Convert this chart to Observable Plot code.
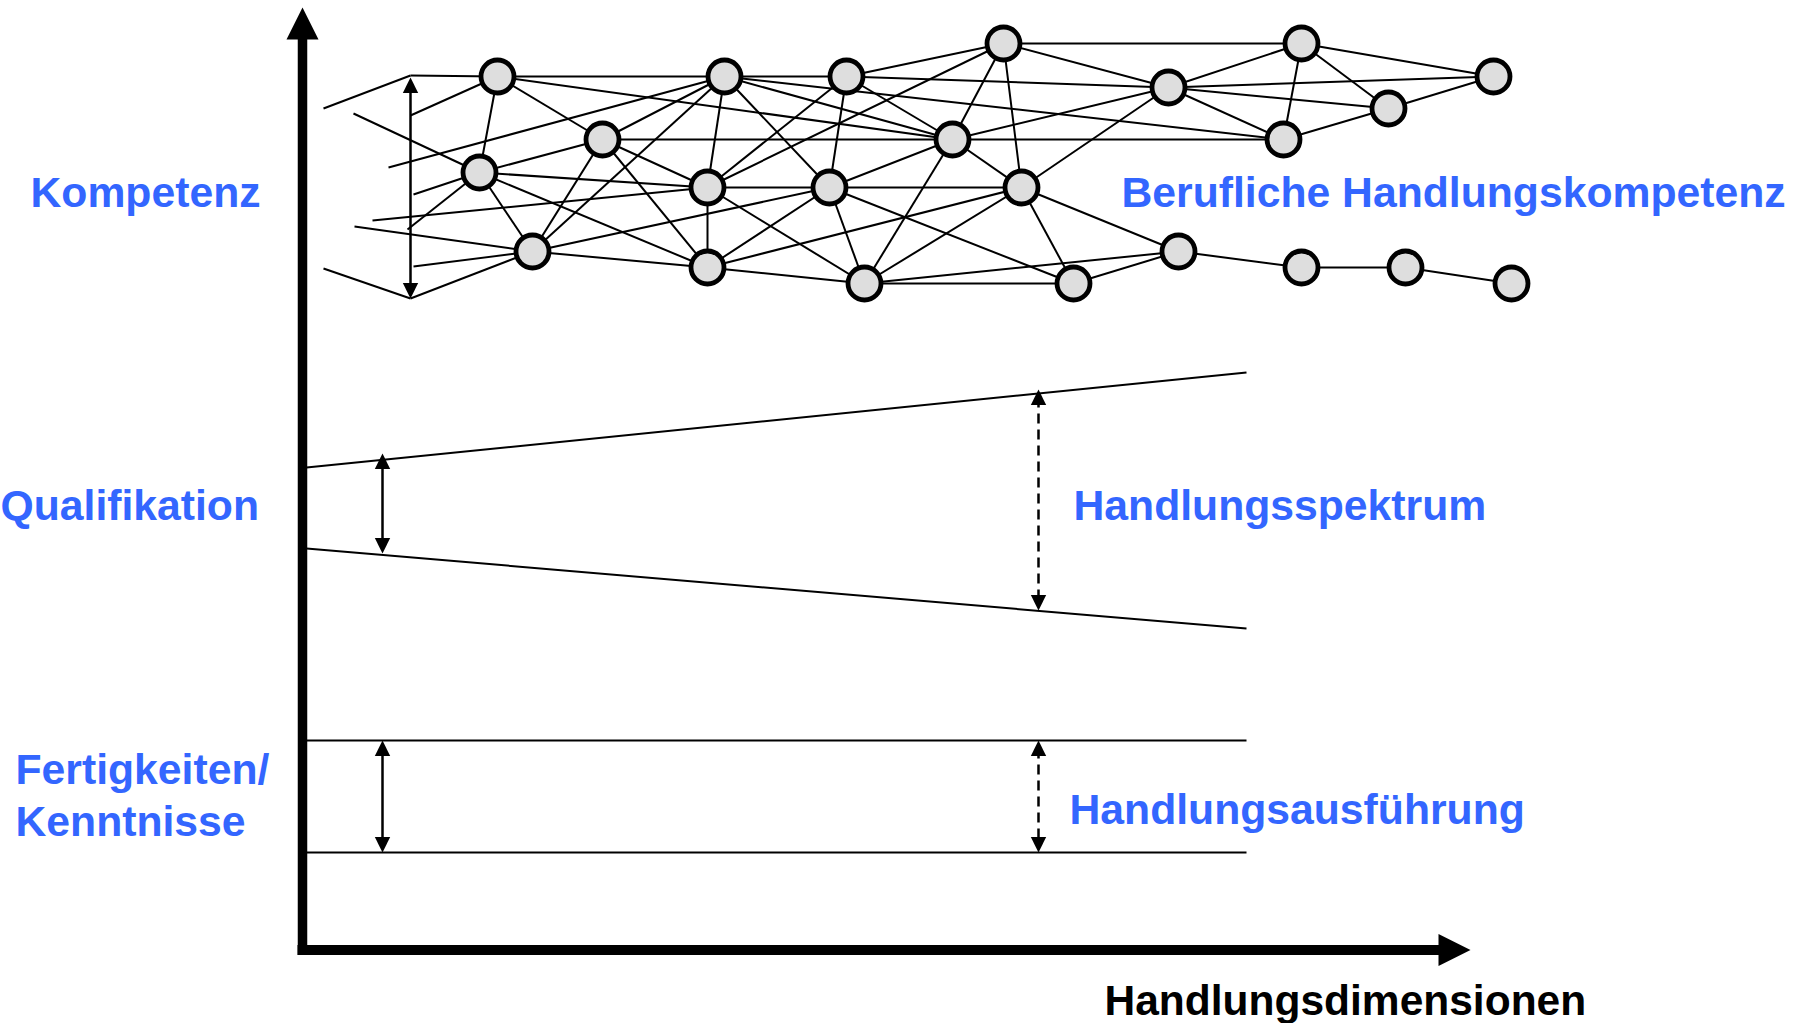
<!DOCTYPE html>
<html>
<head>
<meta charset="utf-8">
<script src="https://cdn.jsdelivr.net/npm/d3@7"></script>
<script src="https://cdn.jsdelivr.net/npm/@observablehq/plot@0.6"></script>
<style>
html,body{margin:0;padding:0;background:#fff;}
svg{display:block;}
</style>
</head>
<body>
<div id="chart"></div>
<script>
// ---- Network of competences (diagram coordinates) ----
const nodeIds = ["A","B","C","K","L","N","M","O","D","P","Q","E","F","G","R","H","S","I","T","U","J","V","W"];
const nodeX   = [497,724,846,1003,1301,1493,1168,1388,602,952,1283,479,707,829,1021,532,1178,707,1301,1405,864,1073,1511];
const nodeY   = [76,76,76,43,43,76,87,108,139,139,139,172,187,187,187,251,251,267,267,267,283,283,283];

const edgeFrom = ["A","B","A","A","A","B","B","B","B","B","B","C","C","C","C","C","K","K","K","K","K","L","L","L","L","M","M","M","M","M","O","O","D","D","D","D","D","P","P","P","P","E","E","E","F","F","F","G","G","G","G","G","R","R","R","R","H","I","J","J","V","S","T","U"];
const edgeTo   = ["B","C","E","D","P","D","H","F","G","P","Q","K","M","F","G","P","L","M","F","P","R","M","Q","O","N","N","O","Q","P","R","N","Q","E","P","F","I","H","Q","G","R","J","F","I","H","G","I","J","R","I","J","V","H","S","V","J","I","I","J","V","S","S","T","U","W"];

// loose strands entering the network from the left
const strandX = [410,410,353,388,413,407,372,354,413,410];
const strandY = [75,115,113,167,194,229,220,226,266,298];
const strandTo = ["A","A","E","B","E","E","F","H","H","H"];
const cornerX1 = [323,323], cornerY1 = [108,268], cornerX2 = [410,410], cornerY2 = [75,298];

// ---- Qualification / skills bands ----
const bandX1 = [306,306,306,306];
const bandY1 = [467,548,740,852];
const bandX2 = [1246,1246,1246,1246];
const bandY2 = [372,628,740,852];

// ---- Double-headed arrows ----
const arrowX  = [410,382,1038,382,1038];
const arrowY1 = [77,453,389,740,740];
const arrowY2 = [298,553,610,852,852];
const arrowDashed = [false,false,true,false,true];

// ---- Axes ----
const axisOrigin = [302, 949.5];
const axisTopY = 7;
const axisRightX = 1470;

// ---- Labels ----
const labels  = ["Kompetenz","Qualifikation","Fertigkeiten/","Kenntnisse","Berufliche Handlungskompetenz","Handlungsspektrum","Handlungsausführung"];
const labelX  = [30,0,15,15,1121,1073,1069];
const labelY  = [206,519,783,835,206,519,823];
const axisTitle = ["Handlungsdimensionen"];
const axisTitleX = [1104];
const axisTitleY = [1014];

// helpers
const idx = Object.fromEntries(nodeIds.map((id, i) => [id, i]));
const nodes = nodeIds.map((id, i) => ({id, x: nodeX[i], y: nodeY[i]}));
const edges = edgeFrom.map((f, i) => ({x1: nodeX[idx[f]], y1: nodeY[idx[f]], x2: nodeX[idx[edgeTo[i]]], y2: nodeY[idx[edgeTo[i]]]}));
const strands = strandX.map((x, i) => ({x1: x, y1: strandY[i], x2: nodeX[idx[strandTo[i]]], y2: nodeY[idx[strandTo[i]]]}));
const corners = cornerX1.map((x, i) => ({x1: x, y1: cornerY1[i], x2: cornerX2[i], y2: cornerY2[i]}));
const bands = bandX1.map((x, i) => ({x1: x, y1: bandY1[i], x2: bandX2[i], y2: bandY2[i]}));
const arrows = arrowX.map((x, i) => ({x, y1: arrowY1[i], y2: arrowY2[i], dashed: arrowDashed[i]}));

// triangle arrowheads with the tip at the anchor point
const triUp = {draw(c, s) { const r = Math.sqrt(s / Math.PI); c.moveTo(0, 0); c.lineTo(r, 2 * r); c.lineTo(-r, 2 * r); c.closePath(); }};
const triDown = {draw(c, s) { const r = Math.sqrt(s / Math.PI); c.moveTo(0, 0); c.lineTo(r, -2 * r); c.lineTo(-r, -2 * r); c.closePath(); }};
const triRight = {draw(c, s) { const r = Math.sqrt(s / Math.PI); c.moveTo(0, 0); c.lineTo(-2 * r, -r); c.lineTo(-2 * r, r); c.closePath(); }};

const font = "Arial, 'Liberation Sans', Helvetica, sans-serif";
const blue = "#3366ff";

const chart = Plot.plot({
  width: 1800,
  height: 1023,
  margin: 0,
  x: {domain: [0, 1800], range: [0, 1800], axis: null},
  y: {domain: [0, 1023], range: [0, 1023], axis: null},
  style: {background: "white", overflow: "visible"},
  marks: [
    // bands
    Plot.link(bands, {x1: "x1", y1: "y1", x2: "x2", y2: "y2", stroke: "black", strokeWidth: 2}),
    // network edges
    Plot.link(corners, {x1: "x1", y1: "y1", x2: "x2", y2: "y2", stroke: "black", strokeWidth: 2}),
    Plot.link(strands, {x1: "x1", y1: "y1", x2: "x2", y2: "y2", stroke: "black", strokeWidth: 2}),
    Plot.link(edges, {x1: "x1", y1: "y1", x2: "x2", y2: "y2", stroke: "black", strokeWidth: 2}),
    // double arrows (shafts)
    Plot.link(arrows.filter(d => !d.dashed), {x1: "x", x2: "x", y1: d => d.y1 + 8, y2: d => d.y2 - 8, stroke: "black", strokeWidth: 2.5}),
    Plot.link(arrows.filter(d => d.dashed), {x1: "x", x2: "x", y1: d => d.y1 + 8, y2: d => d.y2 - 8, stroke: "black", strokeWidth: 2.5, strokeDasharray: "10,6"}),
    Plot.dot(arrows, {x: "x", y: "y1", r: 7.7, symbol: triUp, fill: "black", stroke: "none"}),
    Plot.dot(arrows, {x: "x", y: "y2", r: 7.7, symbol: triDown, fill: "black", stroke: "none"}),
    // nodes
    Plot.dot(nodes, {x: "x", y: "y", r: 16.5, fill: "#dedede", stroke: "black", strokeWidth: 4.8}),
    // axes
    Plot.link([axisOrigin], {x1: d => d[0], x2: d => d[0], y1: axisTopY + 28, y2: d => d[1] + 5, stroke: "black", strokeWidth: 9.5, strokeLinecap: "butt"}),
    Plot.link([axisOrigin], {x1: d => d[0] - 5, x2: axisRightX - 30, y1: d => d[1], y2: d => d[1], stroke: "black", strokeWidth: 10, strokeLinecap: "butt"}),
    Plot.dot([axisOrigin], {x: d => d[0], y: axisTopY, r: 16, symbol: triUp, fill: "black", stroke: "none"}),
    Plot.dot([axisOrigin], {x: axisRightX, y: d => d[1], r: 16, symbol: triRight, fill: "black", stroke: "none"}),
    // labels
    Plot.text(labels, {x: (d, i) => labelX[i], y: (d, i) => labelY[i], text: d => d, fill: blue, fontSize: 42.7, fontWeight: "bold", fontFamily: font, textAnchor: "start", lineAnchor: "bottom"}),
    Plot.text(axisTitle, {x: (d, i) => axisTitleX[i], y: (d, i) => axisTitleY[i], text: d => d, fill: "black", fontSize: 42.5, fontWeight: "bold", fontFamily: font, textAnchor: "start", lineAnchor: "bottom"})
  ]
});
document.getElementById("chart").appendChild(chart);
</script>
</body>
</html>
